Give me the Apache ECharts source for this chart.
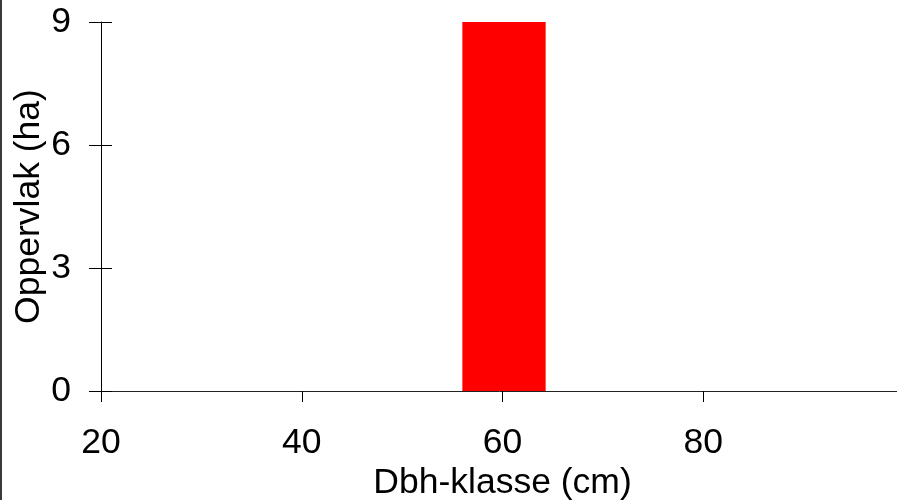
<!DOCTYPE html>
<html>
<head>
<meta charset="utf-8">
<script src="https://cdn.jsdelivr.net/npm/echarts@6/dist/echarts.min.js"></script>
<style>
html,body{margin:0;padding:0;background:#fff;}
#c{width:897px;height:500px;}
</style>
</head>
<body>
<div id="c"></div>
<script>
// Data
const binStart = [56];
const binEnd = [64.3];
const area = [9];
const xTicks = [20, 40, 60, 80, 100];
const yTicks = [0, 3, 6, 9];
const xName = 'Dbh-klasse (cm)';
const yName = 'Oppervlak (ha)';

const chart = echarts.init(document.getElementById('c'), null, {renderer: 'canvas'});
const font = 'Liberation Sans, Arial, sans-serif';
const fs = 35.5;

const grid = {left: 101, top: 22, right: -7, bottom: 109, outerBoundsMode: 'none', containLabel: false};

const baseX = {
  type: 'value', min: xTicks[0], max: xTicks[xTicks.length - 1], interval: 20,
  splitLine: {show: false}
};
const baseY = {
  type: 'value', min: yTicks[0], max: yTicks[yTicks.length - 1], interval: 3,
  splitLine: {show: false}
};

const data = binStart.map((s, i) => [s, binEnd[i], area[i]]);

chart.setOption({
  backgroundColor: '#fff',
  animation: false,
  grid: [grid],
  graphic: [{
    type: 'rect', left: 0, top: 0,
    shape: {x: 0, y: 0, width: 2, height: 500},
    style: {fill: '#3a3a3a'}, z: 100
  }],
  xAxis: [
    Object.assign({}, baseX, {
      gridIndex: 0,
      name: xName, nameLocation: 'middle', nameGap: 74, nameMoveOverlap: false,
      nameTextStyle: {fontFamily: font, fontSize: fs, color: '#000'},
      axisLine: {show: true, onZero: false, lineStyle: {color: '#222', width: 1}},
      axisTick: {show: true, inside: false, length: 11, lineStyle: {color: '#000'}},
      axisLabel: {show: true, margin: 34, showMaxLabel: false, fontFamily: font, fontSize: fs, color: '#000'}
    }),
    Object.assign({}, baseX, {
      gridIndex: 0,
      axisLine: {show: false},
      axisTick: {show: true, inside: true, length: 11, lineStyle: {color: '#000'}},
      axisLabel: {show: false}
    })
  ],
  yAxis: [
    Object.assign({}, baseY, {
      gridIndex: 0,
      name: yName, nameLocation: 'middle', nameGap: 54, nameMoveOverlap: false,
      nameTextStyle: {fontFamily: font, fontSize: fs, color: '#000'},
      axisLine: {show: true, onZero: false, lineStyle: {color: '#000', width: 1}},
      axisTick: {show: true, inside: false, length: 12, lineStyle: {color: '#000'}},
      axisLabel: {show: true, margin: 30, fontFamily: font, fontSize: fs, color: '#000'}
    }),
    Object.assign({}, baseY, {
      gridIndex: 0,
      position: 'left',
      axisLine: {show: false},
      axisTick: {show: true, inside: true, length: 11, lineStyle: {color: '#000'}},
      axisLabel: {show: false}
    })
  ],
  series: [{
    type: 'custom',
    xAxisIndex: 0, yAxisIndex: 0,
    data: data,
    encode: {x: [0, 1], y: 2},
    clip: false,
    renderItem: function (params, api) {
      const p1 = api.coord([api.value(0), api.value(2)]);
      const p2 = api.coord([api.value(1), 0]);
      return {
        type: 'rect',
        shape: {x: p1[0], y: p1[1], width: p2[0] - p1[0], height: p2[1] - p1[1]},
        style: {fill: '#ff0000'}
      };
    },
    z: 1
  }]
});
</script>
</body>
</html>
